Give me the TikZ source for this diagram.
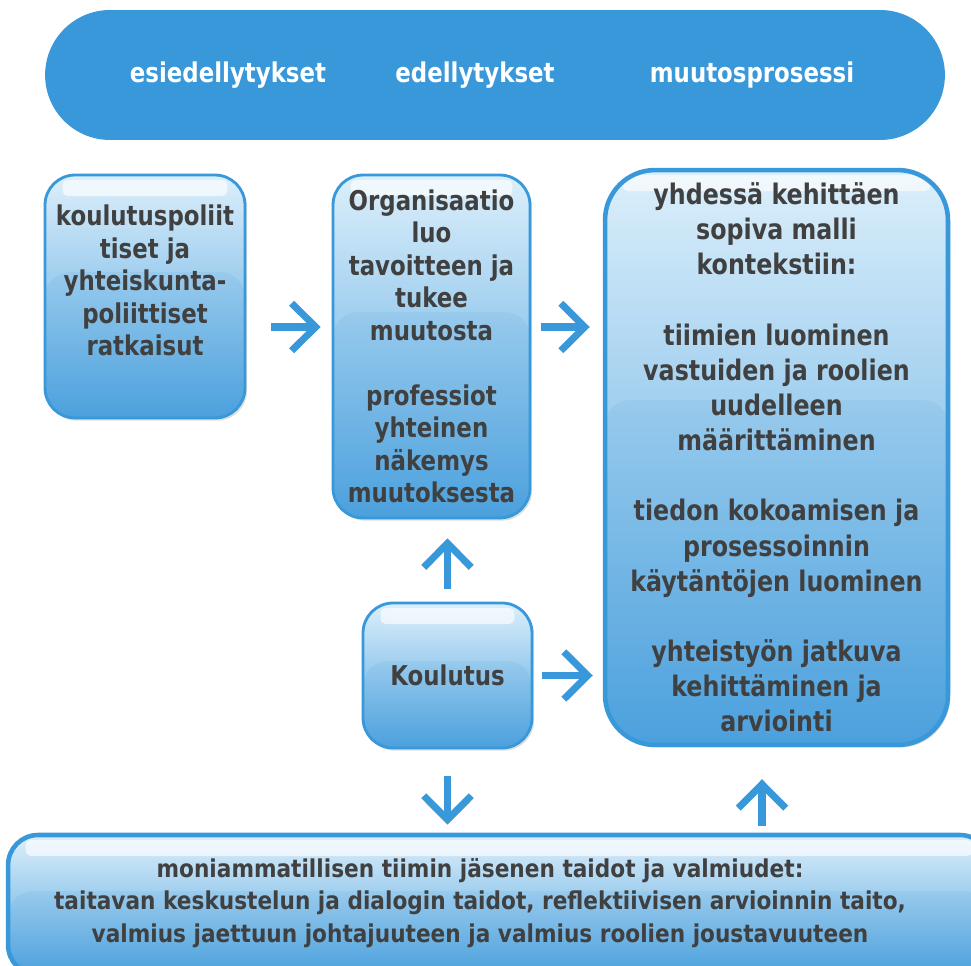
\documentclass[tikz,border=0pt]{standalone}
\usepackage{fontspec}
\setsansfont{DejaVu Sans}
\newfontfamily\glassfont[FakeStretch=0.84]{DejaVu Sans}
\newfontfamily\narrowfont[FakeStretch=0.88]{DejaVu Sans}
\usetikzlibrary{arrows.meta,shadows,calc}

\definecolor{boxblue}{RGB}{56,152,218}
\definecolor{toplight}{RGB}{220,239,251}
\definecolor{botdark}{RGB}{78,162,222}
\definecolor{textgrey}{RGB}{64,64,64}

\tikzset{
  glassbox/.style={draw=boxblue, line width=1.6pt, rounded corners=0.6cm,
    align=center, text=textgrey, inner sep=2pt,
    font=\glassfont\bfseries\fontsize{15.5}{18.5}\selectfont,
    top color=toplight, bottom color=botdark,
    drop shadow={shadow xshift=1.2pt, shadow yshift=-1.5pt, opacity=0.25},
    path picture={
      \fill[boxblue, opacity=0.10, rounded corners=0.5cm]
        ($(path picture bounding box.north west)!0.4!(path picture bounding box.south west)$)
        rectangle (path picture bounding box.south east);
      \fill[white, opacity=0.65, rounded corners=3pt]
        ([xshift=0.35cm, yshift=-0.1cm]path picture bounding box.north west)
        rectangle ([xshift=-0.35cm, yshift=-0.42cm]path picture bounding box.north east);
    }},
  headtext/.style={text=white, font=\glassfont\bfseries\fontsize{15.5}{18}\selectfont},
  bigarrow/.style={draw=boxblue, line width=4pt,
    -{Straight Barb[length=0.48cm, width=0.95cm]}},
}

\begin{document}
\begin{tikzpicture}[x=0.02cm, y=-0.02cm]
\useasboundingbox (0,0) rectangle (971,966);

% otsikkopalkki
\node[fill=boxblue, rounded corners=1.3cm, minimum width=18cm, minimum height=2.6cm] (banner) at (495,75) {};
\node[headtext] (esi) at (228,75) {esiedellytykset};
\node[headtext] (edel) at (475,75) {edellytykset};
\node[headtext] (muutos) at (752,75) {muutosprosessi};

% laatikot
\node[glassbox, minimum width=4cm, minimum height=4.86cm] (politiikka) at (145,296.5)
  {koulutuspoliit\\tiset ja\\yhteiskunta-\\poliittiset\\ratkaisut\\ \mbox{}};

\node[glassbox, minimum width=3.94cm, minimum height=6.86cm] (org) at (431.5,346.5)
  {Organisaatio\\luo\\tavoitteen ja\\tukee\\muutosta\\[18.5pt]professiot\\yhteinen\\näkemys\\muutoksesta};

\node[glassbox, line width=2.6pt, rounded corners=1cm, minimum width=6.86cm, minimum height=11.5cm,
  font=\glassfont\bfseries\fontsize{16.1}{20}\selectfont] (malli) at (776.5,457.5)
  {yhdessä kehittäen\\sopiva malli\\kontekstiin:\\[20pt]tiimien luominen\\vastuiden ja roolien\\uudelleen\\määrittäminen\\[20pt]tiedon kokoamisen ja\\prosessoinnin\\käytäntöjen luominen\\[20pt]yhteistyön jatkuva\\kehittäminen ja\\arviointi};

\node[glassbox, minimum width=3.38cm, minimum height=2.9cm] (koulutus) at (447.5,675.5) {Koulutus};

\node[glassbox, line width=2.6pt, minimum width=19.64cm, minimum height=2.8cm] (taidot) at (499,905) {};
\node[text=textgrey, align=center, font=\narrowfont\bfseries\fontsize{14}{18.7}\selectfont] (taidotteksti) at (480,903)
  {moniammatillisen tiimin jäsenen taidot ja valmiudet:\\taitavan keskustelun ja dialogin taidot, reflektiivisen arvioinnin taito,\\valmius jaettuun johtajuuteen ja valmius roolien joustavuuteen};

% nuolet
\coordinate (nuolitaso) at (0,327);
\coordinate (ylos) at (762,0);
\draw[bigarrow, shorten <=0.5cm, shorten >=0.22cm] (politiikka.east |- nuolitaso) -- (org.west |- nuolitaso);
\draw[bigarrow, shorten <=0.2cm, shorten >=0.26cm] (org.east |- nuolitaso) -- (malli.west |- nuolitaso);
\draw[bigarrow, shorten <=0.26cm, shorten >=0.38cm] (koulutus.north) -- (koulutus.north |- org.south);
\draw[bigarrow, shorten <=0.18cm, shorten >=0.2cm] (koulutus.east) -- (koulutus.east -| malli.west);
\draw[bigarrow, shorten <=0.54cm, shorten >=0.16cm] (koulutus.south) -- (koulutus.south |- taidot.north);
\draw[bigarrow, shorten <=0.14cm, shorten >=0.64cm] (taidot.north -| ylos) -- (malli.south -| ylos);
\end{tikzpicture}
\end{document}
